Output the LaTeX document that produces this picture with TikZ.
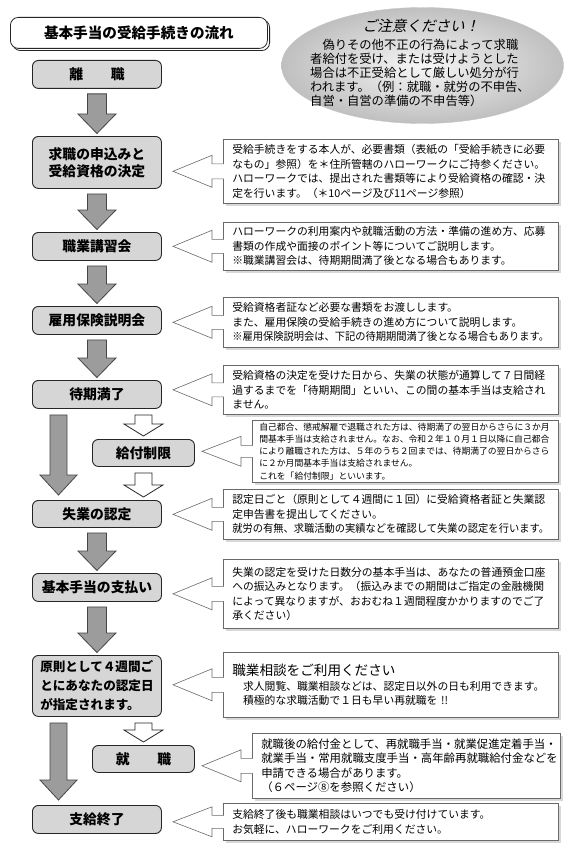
\documentclass[tikz,border=0pt]{standalone}
\usepackage{fontspec}
\usepackage{graphicx}
\newfontfamily\jp{Noto Sans CJK JP}
\usetikzlibrary{calc,shadows,shapes.geometric}
\definecolor{boxfill}{RGB}{214,214,214}
\definecolor{arrfill}{RGB}{156,156,156}
\definecolor{arrline}{RGB}{70,70,70}
\definecolor{linegray}{RGB}{105,105,105}
\tikzset{
 stepbox/.style={draw=black!85, line width=0.9pt, rounded corners=6pt, fill=boxfill,
   font=\jp\bfseries\fontsize{13.8}{17}\selectfont, inner sep=0pt, align=center, anchor=north west},
 titlebox/.style={draw=black!85, line width=0.8pt, rounded corners=8pt, fill=white,
   copy shadow={shadow xshift=2.2pt, shadow yshift=-2.2pt},
   font=\jp\bfseries\fontsize{14.6}{17}\selectfont, inner sep=0pt, anchor=north west},
 notebox/.style={draw=linegray, line width=0.6pt, fill=white,
   drop shadow={shadow xshift=2.5pt, shadow yshift=-2.5pt, opacity=0.25, fill=black!60},
   font=\jp\fontsize{10.8}{14.5}\selectfont, inner xsep=9pt, inner ysep=0pt, align=left, anchor=north west},
 ptrline/.style={draw=linegray, line width=0.6pt, fill=white, line join=miter},
 garrow/.style={draw=arrline, line width=0.8pt, fill=arrfill, line join=miter},
 warrow/.style={draw=black!85, line width=0.8pt, fill=white, line join=miter},
 ovalnote/.style={ellipse, draw=gray!45, line width=0.4pt, inner color=gray!7, outer color=gray!50, inner sep=0pt},
}
% gray block arrow from #1 to #2
\newcommand\garr[2]{\draw[garrow] let \p1=(#1.south), \p2=(#2.north) in
  (\x1-9.5pt,\y1-5pt) -- (\x1+9.5pt,\y1-5pt) -- (\x1+9.5pt,\y2+22pt) -- (\x1+19pt,\y2+22pt)
  -- (\x1,\y2+2.5pt) -- (\x1-19pt,\y2+22pt) -- (\x1-9.5pt,\y2+22pt) -- cycle;}
% long gray block arrow on the left
\newcommand\barr[2]{\draw[garrow] let \p1=(#1.south west), \p2=(#2.north) in
  (\x1+18pt,\y1-6pt) -- (\x1+35pt,\y1-6pt) -- (\x1+35pt,\y2+25pt) -- (\x1+45pt,\y2+25pt)
  -- (\x1+26.5pt,\y2+5pt) -- (\x1+8pt,\y2+25pt) -- (\x1+18pt,\y2+25pt) -- cycle;}
% white block arrow from #1 to #2, centred on node #3
\newcommand\warr[3]{\draw[warrow] let \p1=(#1.south), \p2=(#2.north), \p3=(#3.center) in
  (\x3-8.5pt,\y1-6pt) -- (\x3+8.5pt,\y1-6pt) -- (\x3+8.5pt,\y2+15pt) -- (\x3+19.5pt,\y2+15pt)
  -- (\x3,\y2+3pt) -- (\x3-19.5pt,\y2+15pt) -- (\x3-8.5pt,\y2+15pt) -- cycle;}
% callout pointer on the left of note #1
\newcommand\ptr[3]{\draw[ptrline] let \p2=(#1.west) in
  (\x2+0.8pt,\y2+#3) -- (\x2-11pt,\y2+#3) -- (\x2-11pt,\y2+#2) -- (\x2-50pt,\y2)
  -- (\x2-11pt,\y2-#2) -- (\x2-11pt,\y2-#3) -- (\x2+0.8pt,\y2-#3);}
\newcommand\sq[2]{\scalebox{#1}[1]{#2}}
\begin{document}
\begin{tikzpicture}[x=1pt,y=-1pt]
\useasboundingbox (0,0) rectangle (570,848);
\fill[white] (0,0) rectangle (570,848);

% title
\node[titlebox, minimum width=257, minimum height=31] (title) at (10,17) {基本手当の受給手続きの流れ};

% caution ellipse
\node[ovalnote, minimum width=282, minimum height=116] (oval) at (422.5,65.5) {};
\node[font=\jp\fontsize{14.6}{17}\selectfont\addfontfeature{FakeSlant=0.22}, inner sep=0pt] (ovt) at (421,26) {ご注意ください！};
\node[font=\jp\fontsize{12.3}{13.9}\selectfont, align=left, inner sep=0pt, anchor=north west] (ovb) at (310,39)
 {　偽りその他不正の行為によって求職\\者給付を受け、または受けようとした\\場合は不正受給として厳しい処分が行\\われます。（例：就職・就労の不申告、\\自営・自営の準備の不申告等）};

% left column boxes
\node[stepbox, minimum width=129, minimum height=28] (b1) at (32,60) {離　　職};
\node[stepbox, minimum width=129, minimum height=52] (b2) at (32,136) {求職の申込みと\\受給資格の決定};
\node[stepbox, minimum width=129, minimum height=28] (b3) at (32,232) {職業講習会};
\node[stepbox, minimum width=129, minimum height=28] (b4) at (32,306) {雇用保険説明会};
\node[stepbox, minimum width=129, minimum height=28] (b5) at (32,380) {待期満了};
\node[stepbox, minimum width=102, minimum height=27] (b6) at (92,439) {給付制限};
\node[stepbox, minimum width=129, minimum height=27] (b7) at (32,500) {失業の認定};
\node[stepbox, minimum width=129, minimum height=28] (b8) at (32,573) {基本手当の支払い};
\node[stepbox, minimum width=129, minimum height=61, align=left, font=\jp\bfseries\fontsize{12.6}{19}\selectfont] (b9) at (32,655) {原則として４週間ご\\とにあなたの認定日\\が指定されます。};
\node[stepbox, minimum width=102, minimum height=27] (b10) at (92,745) {就　　職};
\node[stepbox, minimum width=129, minimum height=28] (b11) at (32,805) {支給終了};

% arrows
\garr{b1}{b2}
\garr{b2}{b3}
\garr{b3}{b4}
\garr{b4}{b5}
\barr{b5}{b7}
\warr{b5}{b6}{b6}
\warr{b6}{b7}{b6}
\garr{b7}{b8}
\garr{b8}{b9}
\barr{b9}{b11}
\warr{b9}{b10}{b10}

% notes
\node[notebox, text width=317, minimum height=64] (n2) at (223,139)
 {受給手続きをする本人が、必要書類（表紙の「受給手続きに必要\\なもの」参照）を＊住所管轄のハローワークにご持参ください。\\ハローワークでは、提出された書類等により受給資格の確認・決\\定を行います。（＊10ページ及び11ページ参照）};
\node[notebox, text width=317, minimum height=48] (n3) at (223,222)
 {ハローワークの利用案内や就職活動の方法・準備の進め方、応募\\書類の作成や面接のポイント等についてご説明します。\\※職業講習会は、待期期間満了後となる場合もあります。};
\node[notebox, text width=317, minimum height=50] (n4) at (223,297)
 {受給資格者証など必要な書類をお渡しします。\\また、雇用保険の受給手続きの進め方について説明します。\\\sq{0.95}{※雇用保険説明会は、下記の待期期間満了後となる場合もあります。}};
\node[notebox, text width=317, minimum height=49] (n5) at (223,365)
 {受給資格の決定を受けた日から、失業の状態が通算して７日間経\\過するまでを「待期期間」といい、この間の基本手当は支給され\\ません。};
\node[notebox, text width=292, inner xsep=7pt, minimum height=62, font=\jp\fontsize{8.8}{12.2}\selectfont] (n6) at (252,420)
 {自己都合、懲戒解雇で退職された方は、待期満了の翌日からさらに３か月\\間基本手当は支給されません。なお、令和２年１０月１日以降に自己都合\\により離職された方は、５年のうち２回までは、待期満了の翌日からさら\\に２か月間基本手当は支給されません。\\これを「給付制限」といいます。};
\node[notebox, text width=317, minimum height=50] (n7) at (223,489)
 {認定日ごと（原則として４週間に１回）に受給資格者証と失業認\\定申告書を提出してください。\\\sq{0.95}{就労の有無、求職活動の実績などを確認して失業の認定を行います。}};
\node[notebox, text width=317, minimum height=69] (n8) at (223,559)
 {失業の認定を受けた日数分の基本手当は、あなたの普通預金口座\\への振込みとなります。（振込みまでの期間はご指定の金融機関\\によって異なりますが、おおむね１週間程度かかりますのでご了\\承ください）};
\node[notebox, text width=317, minimum height=65] (n9) at (223,652)
 {{\fontsize{13.6}{19}\selectfont 職業相談をご利用ください}\\　求人閲覧、職業相談などは、認定日以外の日も利用できます。\\　積極的な求職活動で１日も早い再就職を !!};
\node[notebox, text width=290, minimum height=65, font=\jp\fontsize{11.4}{14.5}\selectfont] (n10) at (252,733)
 {就職後の給付金として、再就職手当・就業促進定着手当・\\就業手当・常用就職支度手当・高年齢再就職給付金などを\\申請できる場合があります。\\（６ページ⑧を参照ください）};
\node[notebox, text width=317, minimum height=37] (n11) at (223,803)
 {支給終了後も職業相談はいつでも受け付けています。\\お気軽に、ハローワークをご利用ください。};

% pointers
\ptr{n2}{16pt}{7.5pt}
\ptr{n3}{16pt}{7pt}
\ptr{n4}{16pt}{7pt}
\ptr{n5}{16pt}{7pt}
\ptr{n6}{15pt}{6pt}
\ptr{n7}{16pt}{7pt}
\ptr{n8}{16pt}{7.5pt}
\ptr{n9}{16pt}{7.5pt}
\ptr{n10}{16pt}{7.5pt}
\ptr{n11}{15pt}{6.5pt}
\end{tikzpicture}
\end{document}
